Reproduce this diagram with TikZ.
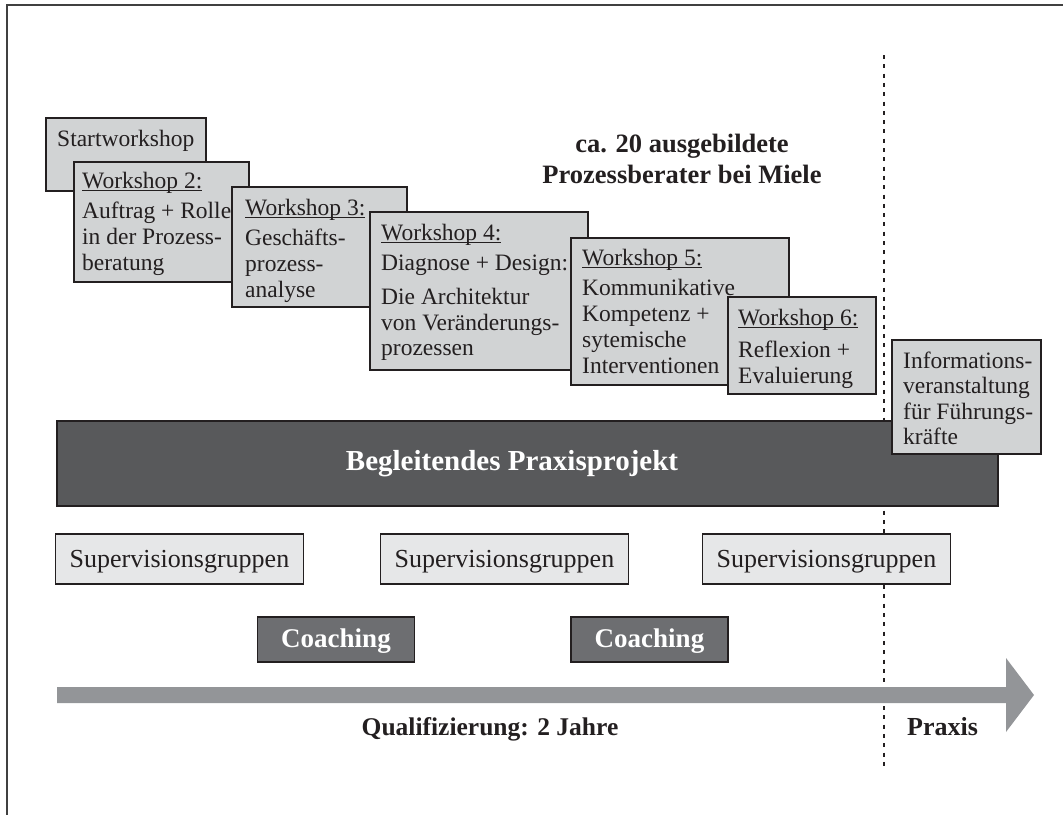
\documentclass[tikz,border=0pt]{standalone}
\usepackage{fontspec}
\setmainfont{Liberation Serif}
\definecolor{wfill}{HTML}{D1D3D4}
\definecolor{sfill}{HTML}{E6E7E8}
\definecolor{cfill}{HTML}{6D6E71}
\definecolor{barfill}{HTML}{58595B}
\definecolor{arrowc}{HTML}{939598}
\definecolor{ink}{HTML}{231F20}
\newcommand{\ulx}[1]{\setbox0\hbox{#1}\rlap{\rule[-2.6pt]{\wd0}{0.9pt}}\box0}
\newcommand{\wfont}{\fontsize{23.5}{26}\selectfont}
\begin{document}
\begin{tikzpicture}[x=1pt,y=-1pt,
  wbox/.style={draw=ink, fill=wfill, line width=2.2pt, inner sep=0pt, outer sep=0pt, anchor=north west},
  wtext/.style={inner sep=0pt, anchor=north west, align=left, font=\wfont, text=ink},
  sbox/.style={draw=ink, fill=sfill, line width=1.8pt, inner sep=0pt, outer sep=0pt,
    minimum width=248pt, minimum height=50pt, text height=20pt, text depth=4pt,
    font=\fontsize{26}{28}\selectfont, text=ink},
  cbox/.style={draw=ink, fill=cfill, line width=1.8pt, inner sep=0pt, outer sep=0pt,
    minimum width=157pt, minimum height=45pt, text height=19pt, text depth=4pt,
    font=\fontsize{27}{29}\selectfont\bfseries, text=white},
  blabel/.style={inner sep=0pt, text=ink, font=\fontsize{26}{31}\selectfont\bfseries}
]
\useasboundingbox (0,0) rectangle (1063,815);
% frame
\coordinate (fTR) at (1063,5);
\coordinate (fTL) at (7,5);
\coordinate (fBL) at (7,815);
\draw[line width=2pt, draw=black!75] (fTR) -- (fTL) -- (fBL);
% dotted divider
\coordinate (dTop) at (884,55);
\coordinate (dBot) at (884,768);
\draw[line width=2.6pt, draw=ink, dash pattern=on 4pt off 5.3pt] (dTop) -- (dBot);
% praxis project bar
\node[draw=ink, fill=barfill, line width=2pt, inner sep=0pt, outer sep=0pt, anchor=north west,
  minimum width=941pt, minimum height=85pt] (bar) at (57,421) {};
\node[inner sep=0pt, anchor=base, text=white, font=\fontsize{29}{31}\selectfont\bfseries] (barT) at (512,470) {Begleitendes Praxisprojekt};
% workshops
\node[wbox, minimum width=160pt, minimum height=73pt] (w1) at (46,118) {};
\node[wtext] (w1t) at (57,130) {Startworkshop};
\node[wbox, minimum width=175pt, minimum height=120pt] (w2) at (74,162) {};
\node[wtext] (w2t) at (82,172) {\ulx{Workshop 2:}\\[4pt]Auftrag + Rolle\\in der Prozess-\\beratung};
\node[wbox, minimum width=175pt, minimum height=120pt] (w3) at (232,187) {};
\node[wtext] (w3t) at (245,199) {\ulx{Workshop 3:}\\[4pt]Geschäfts-\\prozess-\\analyse};
\node[wbox, minimum width=218pt, minimum height=158pt] (w4) at (370,212) {};
\node[wtext,font=\fontsize{23.5}{25.5}\selectfont] (w4t) at (381,224) {\ulx{Workshop 4:}\\[4pt]Diagnose + Design:\\[9pt]Die Architektur\\von Veränderungs-\\prozessen};
\node[wbox, minimum width=218pt, minimum height=147pt] (w5) at (571,238) {};
\node[wtext] (w5t) at (582,249) {\ulx{Workshop 5:}\\[4pt]Kommunikative\\Kompetenz +\\sytemische\\Interventionen};
\node[wbox, minimum width=148pt, minimum height=97pt] (w6) at (728,297) {};
\node[wtext] (w6t) at (738,309) {\ulx{Workshop 6:}\\[6pt]Reflexion +\\Evaluierung};
\node[wbox, minimum width=149pt, minimum height=114pt] (info) at (892,340) {};
\node[wtext,font=\fontsize{23.5}{25.2}\selectfont] (infot) at (903,352) {Informations-\\veranstaltung\\für Führungs-\\kräfte};
% headline
\node[blabel, align=center, anchor=north, font=\fontsize{26.5}{31}\selectfont\bfseries] (head) at (682,134) {ca. 20 ausgebildete\\Prozessberater bei Miele};
% supervision groups
\node[sbox] (s1) at (179.5,559) {Supervisionsgruppen};
\node[sbox] (s2) at (504.5,559) {Supervisionsgruppen};
\node[sbox] (s3) at (826.5,559) {Supervisionsgruppen};
% coaching
\node[cbox] (c1) at (336,639.5) {Coaching};
\node[cbox] (c2) at (649.5,639.5) {Coaching};
% time arrow
\coordinate (aS) at (57,695);
\coordinate (aTip) at (1034,695);
\fill[arrowc] (57,687) -- (1006,687) -- (1006,658) -- (aTip) -- (1006,732) -- (1006,703) -- (57,703) -- cycle;
% bottom labels
\node[blabel, anchor=base, font=\fontsize{25.5}{28}\selectfont\bfseries] (qual) at (490,735) {Qualifizierung: 2 Jahre};
\node[blabel, anchor=base west] (prax) at (907,735) {Praxis};
\end{tikzpicture}
\end{document}
